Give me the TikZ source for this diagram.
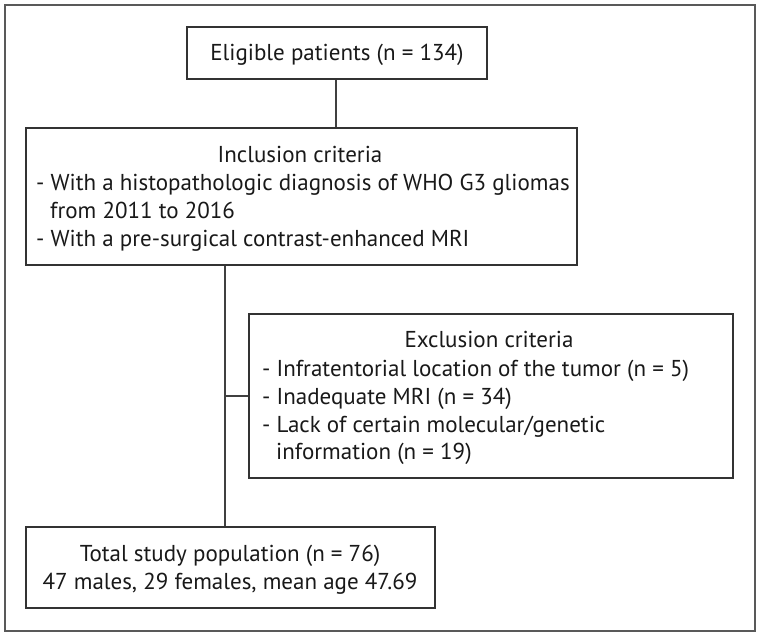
\documentclass[tikz,border=0pt]{standalone}
\usepackage{fontspec}
\setmainfont{PT Sans}
\begin{document}
\begin{tikzpicture}[x=1pt,y=-1pt,
  box/.style={draw=black!80, line width=1.2pt, fill=white, inner sep=0pt},
  conn/.style={draw=black!75, line width=1.1pt},
  txt/.style={font=\fontsize{23}{28}\selectfont, inner sep=0pt, text=black!90},
  lft/.style={txt, anchor=base west, align=left},
  ctr/.style={txt, anchor=base}]
\useasboundingbox (0,0) rectangle (761,636);
\draw[draw=black!65, line width=1.2pt] (5,5) rectangle (755,631);
% boxes
\node[box, minimum width=300pt, minimum height=52pt] (elig) at (337,53) {};
\node[box, minimum width=551pt, minimum height=137pt] (inc) at (301.5,196.5) {};
\node[box, minimum width=484pt, minimum height=164pt] (exc) at (491,396) {};
\node[box, minimum width=409pt, minimum height=81pt] (tot) at (230.5,567.5) {};
% connectors
\coordinate (j1) at (225,265);
\coordinate (j2) at (225,396);
\draw[conn] (elig.south -| 336,0) -- (inc.north -| 336,0);
\draw[conn] (inc.south -| j1) -- (tot.north -| j1);
\draw[conn] (j2) -- (exc.west |- j2);
% texts
\node[ctr] (t1) at (337,61) {Eligible patients (n = 134)};
\node[ctr] (t2) at (300,163) {Inclusion criteria};
\node[lft] (t3) at (36,191) {- With a histopathologic diagnosis of WHO G3 gliomas};
\node[lft] (t4) at (50,219) {from 2011 to 2016};
\node[lft] (t5) at (36,247) {- With a pre-surgical contrast-enhanced MRI};
\node[ctr] (t6) at (489,348) {Exclusion criteria};
\node[lft] (t7) at (262,377) {- Infratentorial location of the tumor (n = 5)};
\node[lft] (t8) at (262,405) {- Inadequate MRI (n = 34)};
\node[lft] (t9) at (262,432) {- Lack of certain molecular/genetic};
\node[lft] (t10) at (276,460) {information (n = 19)};
\node[ctr] (t11) at (230,561) {Total study population (n = 76)};
\node[ctr] (t12) at (230,589) {47 males, 29 females, mean age 47.69};
\end{tikzpicture}
\end{document}
